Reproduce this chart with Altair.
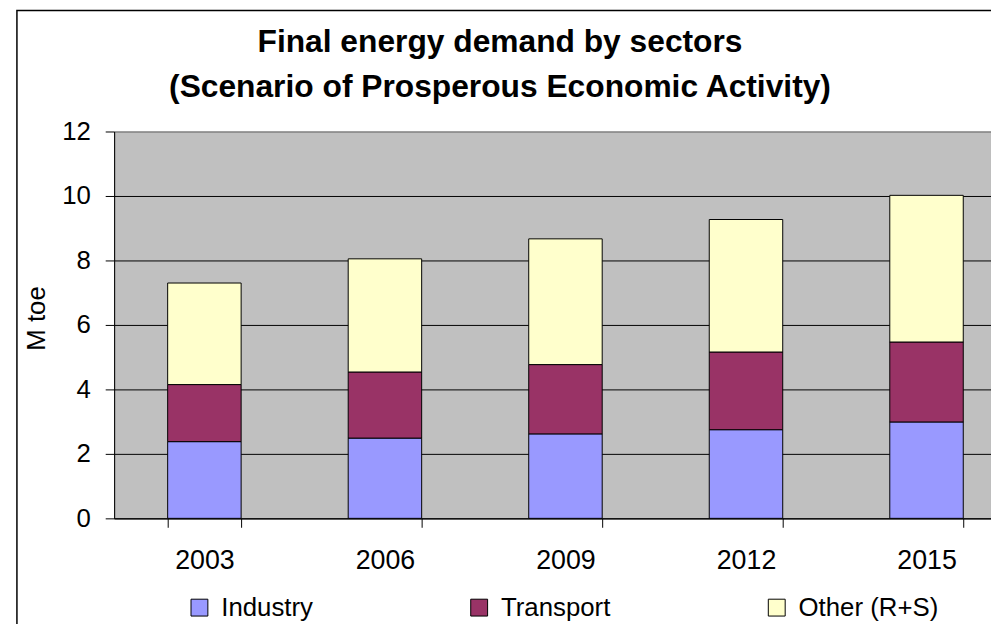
import altair as alt
import pandas as pd

years = ["2003", "2006", "2009", "2012", "2015"]
sectors = ["Industry", "Transport", "Other (R+S)"]
industry = [2.38, 2.49, 2.62, 2.75, 2.99]
transport = [1.77, 2.05, 2.15, 2.41, 2.48]
other = [3.15, 3.51, 3.90, 4.11, 4.55]
colors = ["#9999FF", "#993366", "#FFFFCC"]
y_ticks = [0, 2, 4, 6, 8, 10, 12]

rows = []
for series_name, vals in zip(sectors, [industry, transport, other]):
    for i, (yr, v) in enumerate(zip(years, vals)):
        rows.append({"year": yr, "sector": series_name, "value": v,
                     "order": sectors.index(series_name)})
df = pd.DataFrame(rows)

FONT = "Liberation Sans"

bars = alt.Chart(df).mark_bar(stroke="black", strokeWidth=1).encode(
    x=alt.X("year:N", title=None, sort=years,
            scale=alt.Scale(range=[0, 910], paddingInner=0.593, paddingOuter=0.2965),
            axis=alt.Axis(labelAngle=0, tickBand="extent", tickSize=9, tickColor="black",
                          domainColor="black", labelFontSize=27, labelFont=FONT,
                          labelColor="black", labelPadding=21, grid=False)),
    y=alt.Y("value:Q", title="M toe", stack="zero",
            scale=alt.Scale(domain=[0, 12], nice=False),
            axis=alt.Axis(values=y_ticks, grid=True,
                          gridColor={"condition": {"test": "datum.value === 12", "value": "#808080"},
                                     "value": "black"},
                          gridOpacity=1, gridWidth=1,
                          tickSize=9, tickColor="black", domainColor="black",
                          labelFontSize=26, labelFont=FONT, labelColor="black",
                          labelPadding=15, titleFontSize=26, titleFont=FONT,
                          titleFontWeight="normal", titleColor="black", titleAngle=270,
                          titleX=-78, titleY=188, titleAlign="center", titleBaseline="middle")),
    color=alt.Color("sector:N", sort=sectors,
                    scale=alt.Scale(domain=sectors, range=colors),
                    legend=alt.Legend(title=None, orient="none", direction="horizontal",
                                      columns=3, legendX=73, legendY=467, padding=0,
                                      symbolType="square", symbolSize=289,
                                      symbolStrokeColor="black", symbolStrokeWidth=1,
                                      labelFontSize=26, labelFont=FONT, labelColor="black",
                                      labelOffset=9, columnPadding=154)),
    order=alt.Order("order:Q"),
)

frame = alt.Chart(alt.Data(values=[{}])).mark_rect(
    filled=False, stroke="black", strokeWidth=1.5
).encode(x=alt.value(-98), x2=alt.value(900), y=alt.value(-122), y2=alt.value(500))

chart = alt.layer(bars, frame).properties(
    width=884, height=390,
    title=alt.TitleParams(
        text=["Final energy demand by sectors", "(Scenario of Prosperous Economic Activity)"],
        fontSize=32, font=FONT, fontWeight="bold", color="black",
        anchor="middle", frame="group", dx=-53, dy=122, offset=27, lineHeight=45),
    autosize=alt.AutoSizeParams(type="none"),
    padding={"left": 107, "top": 122, "right": 0, "bottom": 104},
).configure_view(fill="#C0C0C0", stroke="#808080", strokeWidth=1)

chart.save("out.html", embed_options={"renderer": "svg", "actions": False})
